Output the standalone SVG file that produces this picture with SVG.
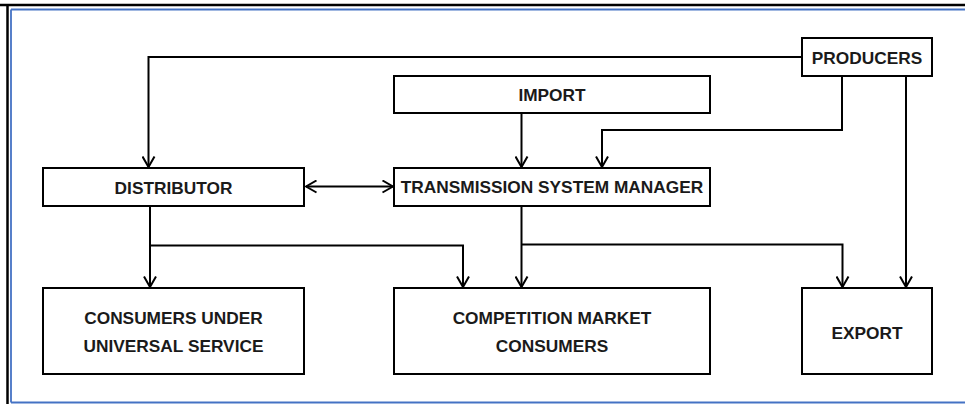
<svg xmlns="http://www.w3.org/2000/svg" width="965" height="404" viewBox="0 0 965 404">
<defs>
<style>
.box{fill:#fff;stroke:#000;stroke-width:2}
.lbl{font-family:"Liberation Sans",Arial,sans-serif;font-weight:bold;font-size:17.3px;fill:#1a1a1a;text-anchor:middle}
.con{fill:none;stroke:#000;stroke-width:2}
</style>
<marker id="ah" viewBox="0 0 12 14" refX="11" refY="7" markerWidth="12" markerHeight="14" markerUnits="userSpaceOnUse" orient="auto-start-reverse">
<polyline points="0.5,1 11,7 0.5,13" fill="none" stroke="#000" stroke-width="2"/>
</marker>
</defs>
<rect width="965" height="404" fill="#fff"/>
<g id="frame">
<line x1="0" y1="5" x2="965" y2="5" stroke="#000" stroke-width="2.5"/>
<line x1="7.5" y1="4" x2="7.5" y2="404" stroke="#000" stroke-width="2.5"/>
<line x1="11" y1="9.5" x2="965" y2="9.5" stroke="#4472C4" stroke-width="1.8"/>
<line x1="11" y1="9.5" x2="11" y2="402.5" stroke="#4472C4" stroke-width="1.8"/>
<line x1="11" y1="402.5" x2="965" y2="402.5" stroke="#4472C4" stroke-width="2"/>
</g>
<g id="connectors">
<polyline class="con" points="801,57 148.5,57 148.5,167" marker-end="url(#ah)"/>
<polyline class="con" points="842,76 842,130 602,130 602,167" marker-end="url(#ah)"/>
<line class="con" x1="521.5" y1="113" x2="521.5" y2="167" marker-end="url(#ah)"/>
<line class="con" x1="306" y1="186.5" x2="393" y2="186.5" marker-start="url(#ah)" marker-end="url(#ah)"/>
<line class="con" x1="906" y1="76" x2="906" y2="287" marker-end="url(#ah)"/>
<line class="con" x1="150" y1="206" x2="150" y2="287" marker-end="url(#ah)"/>
<polyline class="con" points="150,245.5 463,245.5 463,287" marker-end="url(#ah)"/>
<line class="con" x1="521.5" y1="206" x2="521.5" y2="287" marker-end="url(#ah)"/>
<polyline class="con" points="521.5,244.5 842.5,244.5 842.5,287" marker-end="url(#ah)"/>
</g>
<g id="producers">
<rect class="box" x="802" y="38" width="130" height="38"/>
<text class="lbl" x="867" y="64">PRODUCERS</text>
</g>
<g id="import">
<rect class="box" x="394" y="76" width="316" height="37"/>
<text class="lbl" x="552" y="101">IMPORT</text>
</g>
<g id="distributor">
<rect class="box" x="43" y="168" width="261" height="38"/>
<text class="lbl" x="173.5" y="194">DISTRIBUTOR</text>
</g>
<g id="tsm">
<rect class="box" x="394" y="168" width="316" height="38"/>
<text class="lbl" x="552" y="193">TRANSMISSION SYSTEM MANAGER</text>
</g>
<g id="cus">
<rect class="box" x="43" y="288" width="261" height="86"/>
<text class="lbl" x="173.5" y="324">CONSUMERS UNDER</text>
<text class="lbl" x="173.5" y="352">UNIVERSAL SERVICE</text>
</g>
<g id="cmc">
<rect class="box" x="394" y="288" width="316" height="86"/>
<text class="lbl" x="552" y="324">COMPETITION MARKET</text>
<text class="lbl" x="552" y="352">CONSUMERS</text>
</g>
<g id="export">
<rect class="box" x="802" y="288" width="130" height="86"/>
<text class="lbl" x="867" y="339">EXPORT</text>
</g>
</svg>
